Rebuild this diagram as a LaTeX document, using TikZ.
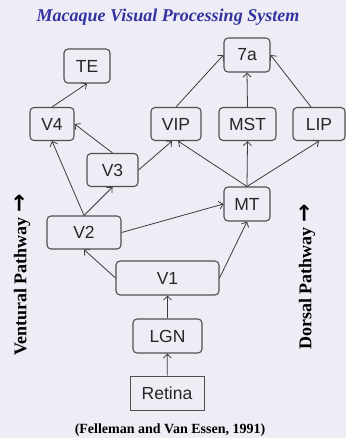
\documentclass[tikz,border=0pt]{standalone}
\usepackage{fontspec}
\setmainfont{Liberation Serif}
\newfontfamily\boxfont{Liberation Sans}
\newfontfamily\arrowfont{DejaVu Sans}
\usepackage{xcolor}
\usepackage{tikz}
\usetikzlibrary{arrows.meta}

\definecolor{slidebg}{RGB}{238,237,246}
\definecolor{titleblue}{RGB}{51,51,160}
\definecolor{boxgray}{RGB}{80,80,80}
\definecolor{edgegray}{RGB}{60,60,60}

\begin{document}
\begin{tikzpicture}[x=1pt,y=-1pt,>={Straight Barb[length=4pt,width=8pt]},
  area/.style={draw=boxgray,line width=1.1pt,rounded corners=4pt,inner sep=0pt,
    font=\boxfont\fontsize{17.5}{20}\selectfont,text=black!85},
  edge/.style={->,draw=edgegray,line width=0.8pt},
  pathlabel/.style={rotate=90,font=\bfseries\fontsize{18}{20}\selectfont}]
\fill[slidebg] (0,0) rectangle (346,438);
\useasboundingbox (0,0) rectangle (346,438);

% title and source
\node (title) at (168,17) {\color{titleblue}\bfseries\itshape\fontsize{18}{20}\selectfont Macaque Visual Processing System};
\node (source) at (170,430) {\bfseries\fontsize{14}{16}\selectfont (Felleman and Van Essen, 1991)};

% areas
\node[area,minimum width=46,minimum height=34] (te) at (87,66) {TE};
\node[area,minimum width=46,minimum height=34] (sevena) at (247,55) {7a};
\node[area,minimum width=44,minimum height=33] (vfour) at (52,124) {V4};
\node[area,minimum width=50,minimum height=33] (vip) at (176,124) {VIP};
\node[area,minimum width=57,minimum height=33] (mst) at (247.5,124) {MST};
\node[area,minimum width=52,minimum height=33] (lip) at (319,124) {LIP};
\node[area,minimum width=51,minimum height=33] (vthree) at (112.5,170) {V3};
\node[area,minimum width=46,minimum height=34] (mt) at (247,204) {MT};
\node[area,minimum width=74,minimum height=33] (vtwo) at (84,232.5) {V2};
\node[area,minimum width=103,minimum height=34] (vone) at (167.5,278) {V1};
\node[area,minimum width=69,minimum height=34] (lgn) at (167.5,336) {LGN};
\node[area,rounded corners=0pt,line width=0.9pt,minimum width=74,minimum height=34] (retina) at (167,393) {Retina};

% pathways
\node[pathlabel] (ventral) at (22,275) {Ventural Pathway {\arrowfont\bfseries\fontsize{22}{22}\selectfont →}};
\node[pathlabel] (dorsal) at (307,277) {Dorsal Pathway {\arrowfont\bfseries\fontsize{22}{22}\selectfont →}};

% connections
\draw[edge] (retina) -- (lgn);
\draw[edge] (lgn) -- (vone);
\draw[edge] (vone.west) -- (vtwo.south);
\draw[edge] (vone.east) -- (mt.south);
\draw[edge] (vtwo.east) -- (mt.west);
\draw[edge] (vtwo.north) -- (vthree.south);
\draw[edge] (vtwo.north) -- (vfour.south);
\draw[edge] (vthree.north) -- (vfour.east);
\draw[edge] (vthree.east) -- ([xshift=-4]vip.south);
\draw[edge] (vfour.north) -- (te.south);
\draw[edge] (mt.north) -- ([xshift=2]vip.south);
\draw[edge] (mt.north) -- (mst.south);
\draw[edge] (mt.north) -- (lip.south);
\draw[edge] (vip.north) -- (sevena.west);
\draw[edge] (mst.north) -- (sevena.south);
\draw[edge] ([xshift=-8]lip.north) -- (sevena.east);
\end{tikzpicture}
\end{document}
